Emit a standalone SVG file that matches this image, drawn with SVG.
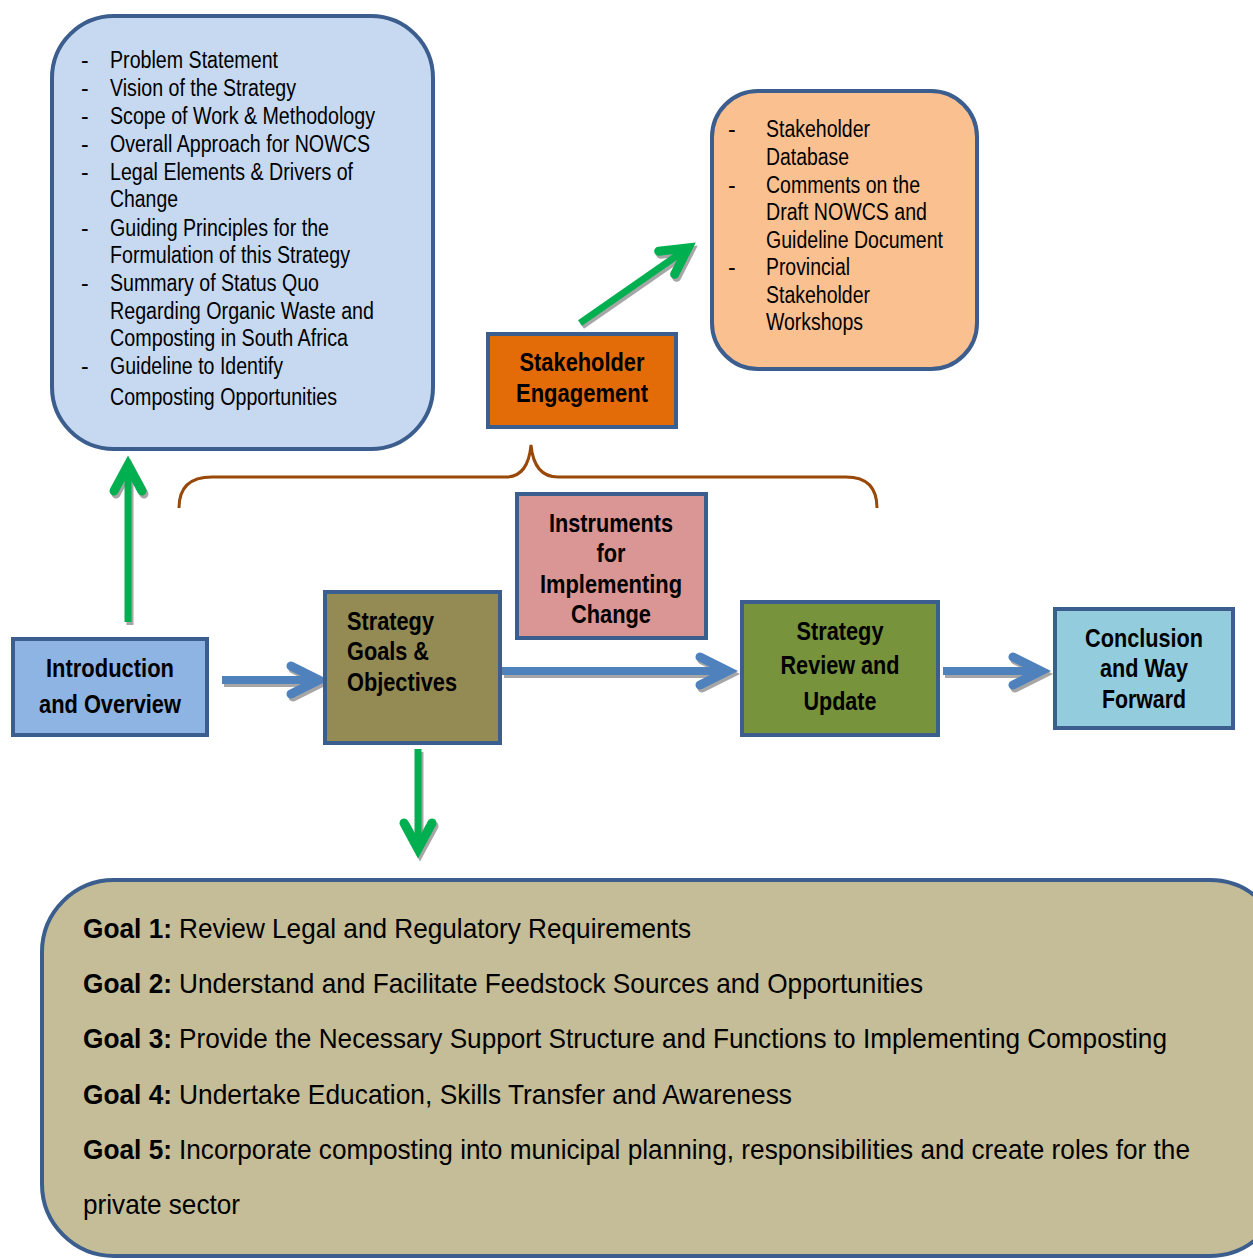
<svg xmlns="http://www.w3.org/2000/svg" width="1253" height="1259" viewBox="0 0 1253 1259">
<defs>
<style>
.box{stroke:#3B5E8E;stroke-width:4}
.t{font-family:"Liberation Sans Narrow","Arial Narrow","Liberation Sans",sans-serif;fill:#000}
.lst{font-size:23px}
.b{font-weight:bold;font-size:25px}
.g{font-size:28px}
.gb{font-weight:bold}
.blue{stroke:#4F81BD;stroke-width:8;fill:none;stroke-linecap:butt}
.green{stroke:#00B050;stroke-width:7;fill:none}
.shd{stroke:#A6A6A6;fill:none}
</style>
<marker id="hb" markerUnits="userSpaceOnUse" viewBox="-40 -25 50 50" markerWidth="50" markerHeight="50" refX="0" refY="0" orient="auto" overflow="visible">
<path d="M-28,-14 L0,0 L-28,14" fill="none" stroke="#4F81BD" stroke-width="9" stroke-linecap="round" stroke-linejoin="miter"/>
</marker>
<marker id="hbs" markerUnits="userSpaceOnUse" viewBox="-40 -25 50 50" markerWidth="50" markerHeight="50" refX="0" refY="0" orient="auto" overflow="visible">
<path d="M-28,-14 L0,0 L-28,14" fill="none" stroke="#A6A6A6" stroke-width="9" stroke-linecap="round" stroke-linejoin="miter"/>
</marker>
<marker id="hg" markerUnits="userSpaceOnUse" viewBox="-40 -25 50 50" markerWidth="50" markerHeight="50" refX="0" refY="0" orient="auto" overflow="visible">
<path d="M-26,-14 L0,0 L-26,14" fill="none" stroke="#00B050" stroke-width="9" stroke-linecap="round" stroke-linejoin="miter"/>
</marker>
<marker id="hgs" markerUnits="userSpaceOnUse" viewBox="-40 -25 50 50" markerWidth="50" markerHeight="50" refX="0" refY="0" orient="auto" overflow="visible">
<path d="M-26,-14 L0,0 L-26,14" fill="none" stroke="#A6A6A6" stroke-width="9" stroke-linecap="round" stroke-linejoin="miter"/>
</marker>
</defs>
<rect width="1253" height="1259" fill="#fff"/>

<g id="connectors">
  <g transform="translate(2,3)">
    <path class="shd" stroke-width="7" d="M128,622 L128,465" marker-end="url(#hgs)"/>
    <path class="shd" stroke-width="7" d="M580,323 L688,248" marker-end="url(#hgs)"/>
    <path class="shd" stroke-width="7" d="M418,749 L418,849" marker-end="url(#hgs)"/>
    <path class="shd" stroke-width="8" d="M222,680 L319,680" marker-end="url(#hbs)"/>
    <path class="shd" stroke-width="8" d="M502,671 L728,671" marker-end="url(#hbs)"/>
    <path class="shd" stroke-width="8" d="M943,671 L1041,671" marker-end="url(#hbs)"/>
  </g>
  <path class="green" d="M128,622 L128,465" marker-end="url(#hg)"/>
  <path class="green" d="M580,323 L688,248" marker-end="url(#hg)"/>
  <path class="green" d="M418,749 L418,849" marker-end="url(#hg)"/>
  <path class="blue" d="M222,680 L319,680" marker-end="url(#hb)"/>
  <path class="blue" d="M502,671 L728,671" marker-end="url(#hb)"/>
  <path class="blue" d="M943,671 L1041,671" marker-end="url(#hb)"/>
  <path d="M179,508 Q179,477 212,477 L506,477 Q528,477 531,445 Q534,477 558,477 L846,477 Q877,477 877,508" fill="none" stroke="#984807" stroke-width="3"/>
</g>

<g id="intro-list">
  <rect class="box" x="52" y="16" width="381" height="433" rx="62" fill="#C6D9F1"/>
  <g class="t lst">
    <text x="81" y="68">-</text><text x="110" y="68" textLength="168" lengthAdjust="spacingAndGlyphs">Problem Statement</text>
    <text x="81" y="96">-</text><text x="110" y="96" textLength="186" lengthAdjust="spacingAndGlyphs">Vision of the Strategy</text>
    <text x="81" y="124">-</text><text x="110" y="124" textLength="265" lengthAdjust="spacingAndGlyphs">Scope of Work &amp; Methodology</text>
    <text x="81" y="152">-</text><text x="110" y="152" textLength="260" lengthAdjust="spacingAndGlyphs">Overall Approach for NOWCS</text>
    <text x="81" y="180">-</text><text x="110" y="180" textLength="243" lengthAdjust="spacingAndGlyphs">Legal Elements &amp; Drivers of</text>
    <text x="110" y="207" textLength="68" lengthAdjust="spacingAndGlyphs">Change</text>
    <text x="81" y="236">-</text><text x="110" y="236" textLength="219" lengthAdjust="spacingAndGlyphs">Guiding Principles for the</text>
    <text x="110" y="263" textLength="240" lengthAdjust="spacingAndGlyphs">Formulation of this Strategy</text>
    <text x="81" y="291">-</text><text x="110" y="291" textLength="209" lengthAdjust="spacingAndGlyphs">Summary of Status Quo</text>
    <text x="110" y="319" textLength="264" lengthAdjust="spacingAndGlyphs">Regarding Organic Waste and</text>
    <text x="110" y="346" textLength="238" lengthAdjust="spacingAndGlyphs">Composting in South Africa</text>
    <text x="81" y="374">-</text><text x="110" y="374" textLength="173" lengthAdjust="spacingAndGlyphs">Guideline to Identify</text>
    <text x="110" y="405" textLength="227" lengthAdjust="spacingAndGlyphs">Composting Opportunities</text>
  </g>
</g>

<g id="stakeholder-list">
  <rect class="box" x="712" y="91" width="265" height="278" rx="46" fill="#FAC090"/>
  <g class="t lst">
    <text x="728" y="137">-</text><text x="766" y="137" textLength="104" lengthAdjust="spacingAndGlyphs">Stakeholder</text>
    <text x="766" y="165" textLength="83" lengthAdjust="spacingAndGlyphs">Database</text>
    <text x="728" y="193">-</text><text x="766" y="193" textLength="154" lengthAdjust="spacingAndGlyphs">Comments on the</text>
    <text x="766" y="220" textLength="161" lengthAdjust="spacingAndGlyphs">Draft NOWCS and</text>
    <text x="766" y="248" textLength="177" lengthAdjust="spacingAndGlyphs">Guideline Document</text>
    <text x="728" y="275">-</text><text x="766" y="275" textLength="84" lengthAdjust="spacingAndGlyphs">Provincial</text>
    <text x="766" y="303" textLength="104" lengthAdjust="spacingAndGlyphs">Stakeholder</text>
    <text x="766" y="330" textLength="97" lengthAdjust="spacingAndGlyphs">Workshops</text>
  </g>
</g>

<g id="stakeholder-engagement">
  <rect class="box" x="488" y="334" width="188" height="93" fill="#E36C09"/>
  <text class="t b" x="582" y="371" text-anchor="middle" textLength="125" lengthAdjust="spacingAndGlyphs">Stakeholder</text>
  <text class="t b" x="582" y="402" text-anchor="middle" textLength="132" lengthAdjust="spacingAndGlyphs">Engagement</text>
</g>

<g id="introduction">
  <rect class="box" x="13" y="639" width="194" height="96" fill="#8EB4E3"/>
  <text class="t b" x="110" y="677" text-anchor="middle" textLength="128" lengthAdjust="spacingAndGlyphs">Introduction</text>
  <text class="t b" x="110" y="713" text-anchor="middle" textLength="142" lengthAdjust="spacingAndGlyphs">and Overview</text>
</g>

<g id="strategy-goals">
  <rect class="box" x="325" y="592" width="175" height="151" fill="#948A54"/>
  <text class="t b" x="347" y="630" textLength="87" lengthAdjust="spacingAndGlyphs">Strategy</text>
  <text class="t b" x="347" y="660" textLength="82" lengthAdjust="spacingAndGlyphs">Goals &amp;</text>
  <text class="t b" x="347" y="691" textLength="110" lengthAdjust="spacingAndGlyphs">Objectives</text>
</g>

<g id="instruments">
  <rect class="box" x="517" y="494" width="189" height="144" fill="#D99694"/>
  <text class="t b" x="611" y="532" text-anchor="middle" textLength="124" lengthAdjust="spacingAndGlyphs">Instruments</text>
  <text class="t b" x="611" y="562" text-anchor="middle" textLength="29" lengthAdjust="spacingAndGlyphs">for</text>
  <text class="t b" x="611" y="593" text-anchor="middle" textLength="142" lengthAdjust="spacingAndGlyphs">Implementing</text>
  <text class="t b" x="611" y="623" text-anchor="middle" textLength="80" lengthAdjust="spacingAndGlyphs">Change</text>
</g>

<g id="strategy-review">
  <rect class="box" x="742" y="602" width="196" height="133" fill="#77933C"/>
  <text class="t b" x="840" y="640" text-anchor="middle" textLength="87" lengthAdjust="spacingAndGlyphs">Strategy</text>
  <text class="t b" x="840" y="674" text-anchor="middle" textLength="119" lengthAdjust="spacingAndGlyphs">Review and</text>
  <text class="t b" x="840" y="710" text-anchor="middle" textLength="73" lengthAdjust="spacingAndGlyphs">Update</text>
</g>

<g id="conclusion">
  <rect class="box" x="1055" y="609" width="178" height="119" fill="#93CDDD"/>
  <text class="t b" x="1144" y="647" text-anchor="middle" textLength="118" lengthAdjust="spacingAndGlyphs">Conclusion</text>
  <text class="t b" x="1144" y="677" text-anchor="middle" textLength="88" lengthAdjust="spacingAndGlyphs">and Way</text>
  <text class="t b" x="1144" y="708" text-anchor="middle" textLength="84" lengthAdjust="spacingAndGlyphs">Forward</text>
</g>

<g id="goals">
  <rect class="box" x="42" y="880" width="1240" height="376" rx="72" fill="#C4BD97"/>
  <g class="t g">
    <text class="gb" x="83" y="938" textLength="89" lengthAdjust="spacingAndGlyphs">Goal 1:</text>
    <text x="179" y="938" textLength="512" lengthAdjust="spacingAndGlyphs">Review Legal and Regulatory Requirements</text>
    <text class="gb" x="83" y="993" textLength="89" lengthAdjust="spacingAndGlyphs">Goal 2:</text>
    <text x="179" y="993" textLength="744" lengthAdjust="spacingAndGlyphs">Understand and Facilitate Feedstock Sources and Opportunities</text>
    <text class="gb" x="83" y="1048" textLength="89" lengthAdjust="spacingAndGlyphs">Goal 3:</text>
    <text x="179" y="1048" textLength="988" lengthAdjust="spacingAndGlyphs">Provide the Necessary Support Structure and Functions to Implementing Composting</text>
    <text class="gb" x="83" y="1104" textLength="89" lengthAdjust="spacingAndGlyphs">Goal 4:</text>
    <text x="179" y="1104" textLength="613" lengthAdjust="spacingAndGlyphs">Undertake Education, Skills Transfer and Awareness</text>
    <text class="gb" x="83" y="1159" textLength="89" lengthAdjust="spacingAndGlyphs">Goal 5:</text>
    <text x="179" y="1159" textLength="1011" lengthAdjust="spacingAndGlyphs">Incorporate composting into municipal planning, responsibilities and create roles for the</text>
    <text x="83" y="1214" textLength="157" lengthAdjust="spacingAndGlyphs">private sector</text>
  </g>
</g>
</svg>
